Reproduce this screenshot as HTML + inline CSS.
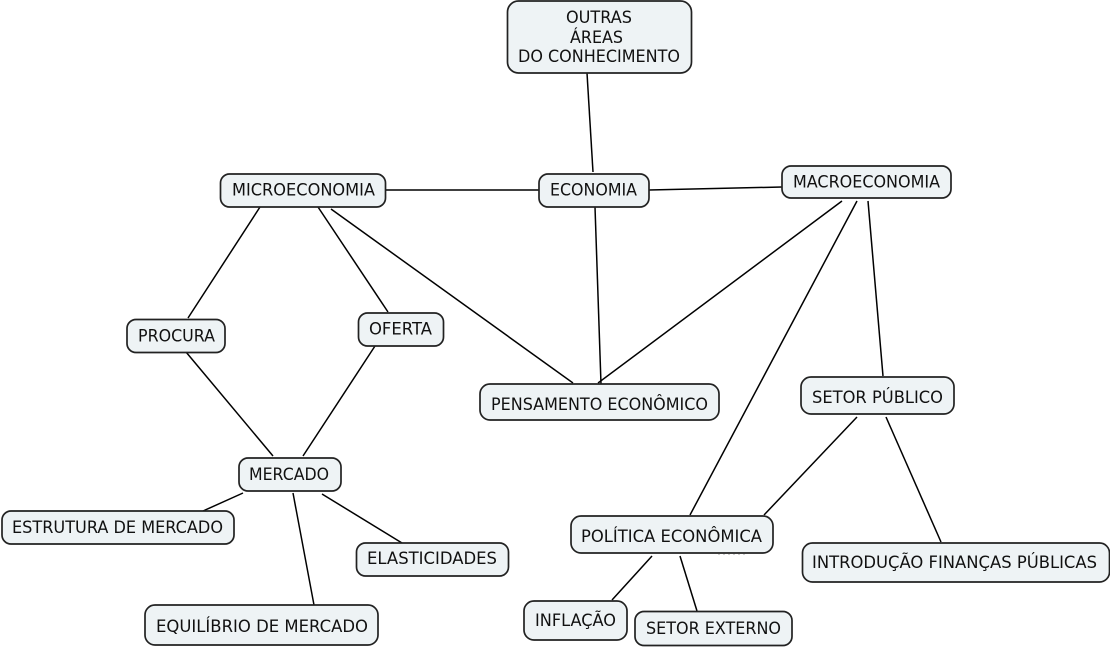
<!DOCTYPE html>
<html lang="pt"><head><meta charset="utf-8"><style>
html,body{margin:0;padding:0;background:#fff}svg{display:block}
rect{fill:#eef3f5;stroke:#222;stroke-width:1.7}
line{stroke:#000;stroke-width:1.5}
text{font-family:"DejaVu Sans",sans-serif;font-size:16.8px;fill:#111}
</style></head><body>
<svg width="1110" height="648" viewBox="0 0 1110 648" xmlns="http://www.w3.org/2000/svg">
<line x1="587" y1="73" x2="593" y2="172"/>
<line x1="385" y1="190" x2="539" y2="190"/>
<line x1="649" y1="190" x2="782" y2="187"/>
<line x1="595" y1="207" x2="601" y2="384"/>
<line x1="260" y1="207" x2="188" y2="318"/>
<line x1="318" y1="207" x2="388" y2="312"/>
<line x1="331" y1="209" x2="573" y2="383"/>
<line x1="842" y1="201" x2="598" y2="383"/>
<line x1="857" y1="201" x2="690" y2="515"/>
<line x1="868" y1="201" x2="883" y2="376"/>
<line x1="186" y1="352" x2="273" y2="456"/>
<line x1="375" y1="346" x2="303" y2="456"/>
<line x1="243" y1="493" x2="203" y2="511"/>
<line x1="293" y1="493" x2="314" y2="605"/>
<line x1="322" y1="494" x2="402" y2="543"/>
<line x1="857" y1="417" x2="764" y2="515"/>
<line x1="886" y1="417" x2="941" y2="542"/>
<line x1="652" y1="556" x2="612" y2="600"/>
<line x1="680" y1="556" x2="697" y2="611"/>
<rect x="507.500" y="1" width="184" height="72" rx="11"/>
<rect x="539" y="174" width="110" height="33" rx="9"/>
<rect x="220.500" y="174" width="165" height="33" rx="9"/>
<rect x="782" y="166" width="169" height="32" rx="9"/>
<rect x="127" y="319.500" width="98" height="33" rx="9"/>
<rect x="358.500" y="313" width="85" height="33" rx="9"/>
<rect x="480" y="384" width="239" height="36" rx="10"/>
<rect x="801" y="377" width="153" height="37" rx="10"/>
<rect x="239" y="458" width="102" height="33" rx="9"/>
<rect x="2" y="511" width="232" height="33" rx="9"/>
<rect x="356.500" y="543" width="152" height="33" rx="9"/>
<rect x="145" y="605" width="233" height="40" rx="10"/>
<rect x="571" y="516" width="202" height="37" rx="10"/>
<rect x="802.500" y="543" width="307" height="39" rx="10"/>
<rect x="524" y="601" width="103" height="39" rx="10"/>
<rect x="635" y="611.500" width="157" height="34" rx="9"/>
<path d="M718 553.800h2M723 553.800h2M728 553.800h2M733 553.800h2M738 553.800h2M743 553.800h2" stroke="#444" stroke-width="1" fill="none"/>
<text x="566" y="23" textLength="66" lengthAdjust="spacingAndGlyphs">OUTRAS</text>
<text x="570" y="43" textLength="53" lengthAdjust="spacingAndGlyphs">ÁREAS</text>
<text x="518" y="62" textLength="162" lengthAdjust="spacingAndGlyphs">DO CONHECIMENTO</text>
<text x="550" y="195.500" textLength="87" lengthAdjust="spacingAndGlyphs">ECONOMIA</text>
<text x="232" y="195.500" textLength="143" lengthAdjust="spacingAndGlyphs">MICROECONOMIA</text>
<text x="793" y="187.500" textLength="147" lengthAdjust="spacingAndGlyphs">MACROECONOMIA</text>
<text x="138" y="341.500" textLength="77" lengthAdjust="spacingAndGlyphs">PROCURA</text>
<text x="369" y="334.500" textLength="63" lengthAdjust="spacingAndGlyphs">OFERTA</text>
<text x="491" y="410" textLength="217" lengthAdjust="spacingAndGlyphs">PENSAMENTO ECONÔMICO</text>
<text x="812" y="403" textLength="131" lengthAdjust="spacingAndGlyphs">SETOR PÚBLICO</text>
<text x="249" y="480" textLength="80" lengthAdjust="spacingAndGlyphs">MERCADO</text>
<text x="12" y="533" textLength="211" lengthAdjust="spacingAndGlyphs">ESTRUTURA DE MERCADO</text>
<text x="367" y="564" textLength="130" lengthAdjust="spacingAndGlyphs">ELASTICIDADES</text>
<text x="156" y="632" textLength="212" lengthAdjust="spacingAndGlyphs">EQUILÍBRIO DE MERCADO</text>
<text x="581" y="542" textLength="181" lengthAdjust="spacingAndGlyphs">POLÍTICA ECONÔMICA</text>
<text x="812" y="568" textLength="285" lengthAdjust="spacingAndGlyphs">INTRODUÇÃO FINANÇAS PÚBLICAS</text>
<text x="535" y="626" textLength="81" lengthAdjust="spacingAndGlyphs">INFLAÇÃO</text>
<text x="646" y="634" textLength="135" lengthAdjust="spacingAndGlyphs">SETOR EXTERNO</text>
</svg>
</body></html>
